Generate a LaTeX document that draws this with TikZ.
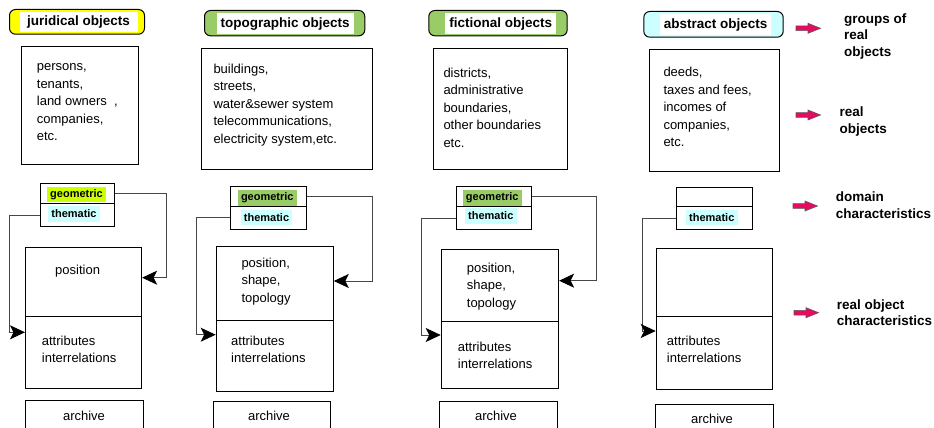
\documentclass[tikz,border=0pt]{standalone}
\usepackage{fontspec}
\setmainfont{Liberation Sans}
\usetikzlibrary{arrows.meta}
\definecolor{hdyellow}{RGB}{255,255,0}
\definecolor{hdgreen}{RGB}{153,204,102}
\definecolor{hdcyan}{RGB}{204,255,255}
\definecolor{geoyellow}{RGB}{204,255,0}
\definecolor{arrowred}{RGB}{232,10,95}
\definecolor{connGray}{RGB}{70,70,70}
\newcommand\myBody{\fontsize{13}{17.4}\selectfont}
\newcommand\myBold{\fontsize{13.5}{16.3}\selectfont\bfseries}
\newcommand\mySmallBold{\fontsize{11}{13}\selectfont\bfseries}
\begin{document}
\begin{tikzpicture}[x=1pt,y=-1pt,
  bx/.style 2 args={draw, line width=1.1pt, inner sep=0pt, anchor=north west, minimum width=#1, minimum height=#2},
  hdr/.style 2 args={draw, line width=1pt, rounded corners=6pt, inner sep=0pt, anchor=north west, minimum width=#1, minimum height=#2},
  hlabel/.style 2 args={fill=white, inner sep=0pt, anchor=north west, minimum width=#1, minimum height=#2, font=\myBold},
  mark/.style 2 args={inner sep=0pt, minimum width=#1, minimum height=#2, font=\mySmallBold},
  txt/.style={inner sep=0pt, anchor=north west, align=left, font=\myBody, execute at begin node=\strut},
  btxt/.style={inner sep=0pt, anchor=north west, align=left, font=\myBold, execute at begin node=\strut},
  arch/.style={inner sep=0pt, anchor=base, font=\myBody},
  conn/.style={draw=connGray, line width=0.9pt, -{Stealth[length=15pt,width=14pt,inset=3.5pt,color=black]}},
  redarrow/.pic={\draw[fill=arrowred, draw=black!65, line width=0.6pt]
     (0,-2.4) -- (12,-2.4) -- (12,-5) -- (24.5,0) -- (12,5) -- (12,2.4) -- (0,2.4) -- cycle;}
]
\useasboundingbox (0,0) rectangle (934,428);
\clip (0,0) rectangle (934,428);

% ---------- headers ----------
\node[hdr={135}{24.7}, fill=hdyellow] (h1) at (9,9) {};
\node[hlabel={118}{20}] (hl1) at (19.3,11.7) {juridical objects};
\node[hdr={160.3}{25.3}, fill=hdgreen] (h2) at (204,10) {};
\node[hlabel={136.6}{21}] (hl2) at (216.7,13) {topographic objects};
\node[hdr={138.4}{25.3}, fill=hdgreen] (h3) at (428.3,10) {};
\node[hlabel={111}{21}] (hl3) at (445,13) {fictional objects};
\node[hdr={139.4}{25.7}, fill=hdcyan] (h4) at (643.3,11) {};
\node[hlabel={111}{21}] (hl4) at (660,14) {abstract objects};

% ---------- content boxes ----------
\node[bx={117}{118}] (c1) at (21,46) {};
\node[txt] (ct1) at (36.7,63.8) {persons,\\tenants,\\land owners\ \ ,\\companies,\\etc.};
\node[bx={171}{121.6}] (c2) at (201.3,47.7) {};
\node[txt] (ct2) at (213.3,63.8) {buildings,\\streets,\\water\&sewer system\\telecommunications,\\electricity system,etc.};
\node[bx={134.3}{121.6}] (c3) at (432.7,47.7) {};
\node[txt] (ct3) at (443.3,67.8) {districts,\\administrative\\boundaries,\\other boundaries\\etc.};
\node[bx={129.4}{122.3}] (c4) at (649.3,48.7) {};
\node[txt] (ct4) at (663.3,67.3) {deeds,\\taxes and fees,\\incomes of\\companies,\\etc.};

% ---------- geometric / thematic boxes ----------
\node[bx={74.3}{19.7}] (g1) at (40,183.3) {};
\node[bx={74.3}{23}] (t1) at (40,203) {};
\node[bx={75.7}{19.4}] (g2) at (230.3,186.3) {};
\node[bx={75.7}{23.3}] (t2) at (230.3,205.7) {};
\node[bx={75.3}{20}] (g3) at (455.7,186.3) {};
\node[bx={75.3}{22.7}] (t3) at (455.7,206.3) {};
\node[bx={75.7}{19.3}] (g4) at (676,186.7) {};
\node[bx={75.7}{23.3}] (t4) at (676,206) {};

\node[mark={59}{15}, fill=geoyellow] (gm1) at (76.5,194.8) {geometric};
\node[mark={52}{15.7}, fill=hdcyan] (tm1) at (74,213.8) {thematic};
\node[mark={59.3}{16}, fill=hdgreen] (gm2) at (267.3,198) {geometric};
\node[mark={51}{15}, fill=hdcyan] (tm2) at (266.5,217.5) {thematic};
\node[mark={59}{15.7}, fill=hdgreen] (gm3) at (492.2,197.8) {geometric};
\node[mark={51.7}{16}, fill=hdcyan] (tm3) at (490.8,216) {thematic};
\node[mark={51.7}{15}, fill=hdcyan] (tm4) at (711.8,217.5) {thematic};

% ---------- main boxes ----------
\node[bx={116}{69.6}] (p1) at (25,246.7) {};
\node[bx={116}{71.4}] (a1) at (25,316.3) {};
\node[txt] (pt1) at (55,262.1) {position};
\node[txt] (at1) at (41.7,335.5) {attributes\\interrelations};

\node[bx={117}{74}] (p2) at (215.7,246) {};
\node[bx={117}{70.7}] (a2) at (215.7,320) {};
\node[txt] (pt2) at (241.3,257.8) {position,\\shape,\\topology};
\node[txt] (at2) at (231,335.5) {attributes\\interrelations};

\node[bx={117.3}{71.7}] (p3) at (440.7,249) {};
\node[bx={117.3}{67.6}] (a3) at (440.7,320.7) {};
\node[txt] (pt3) at (466.7,262.8) {position,\\shape,\\topology};
\node[txt] (at3) at (457.7,341.5) {attributes\\interrelations};

\node[bx={116.6}{68}] (p4) at (655.7,247.7) {};
\node[bx={116.6}{73.3}] (a4) at (655.7,315.7) {};
\node[txt] (at4) at (666.7,335.5) {attributes\\interrelations};

% ---------- archive boxes ----------
\node[bx={117.7}{40}] (ar1) at (25,400) {};
\node[arch] (art1) at (84,420) {archive};
\node[bx={117.6}{40}] (ar2) at (212.7,401.3) {};
\node[arch] (art2) at (269,420.7) {archive};
\node[bx={117.7}{40}] (ar3) at (439,401.3) {};
\node[arch] (art3) at (496,420) {archive};
\node[bx={118}{40}] (ar4) at (655.3,404.3) {};
\node[arch] (art4) at (712,423.3) {archive};

% ---------- connectors ----------
\coordinate (r1) at (166.7,277.7);
\coordinate (l1) at (9.3,332.3);
\coordinate (r2) at (372.3,281);
\coordinate (l2) at (196.7,334.7);
\coordinate (r3) at (596.7,280.7);
\coordinate (l3) at (421.7,335);
\coordinate (l4) at (642.3,331);

\draw[conn] (g1.east) -| (r1) -- (r1 -| p1.east);
\draw[conn] (t1.west) -| (l1) -- (l1 -| a1.west);
\draw[conn] (g2.east) -| (r2) -- (r2 -| p2.east);
\draw[conn] (t2.west) -| (l2) -- (l2 -| a2.west);
\draw[conn] (g3.east) -| (r3) -- (r3 -| p3.east);
\draw[conn] (t3.west) -| (l3) -- (l3 -| a3.west);
\draw[conn] (t4.west) -| (l4) -- (l4 -| a4.west);

% ---------- legend ----------
\pic at (796,28.3) {redarrow};
\pic at (796,115) {redarrow};
\pic at (793,206) {redarrow};
\pic at (794,312.7) {redarrow};
\node[btxt] (lg1) at (844,13.6) {groups of\\real\\objects};
\node[btxt] (lg2) at (839.3,106.9) {real\\objects};
\node[btxt] (lg3) at (835.7,191.9) {domain\\characteristics};
\node[btxt] (lg4) at (836.7,299.6) {real object\\characteristics};
\end{tikzpicture}
\end{document}
